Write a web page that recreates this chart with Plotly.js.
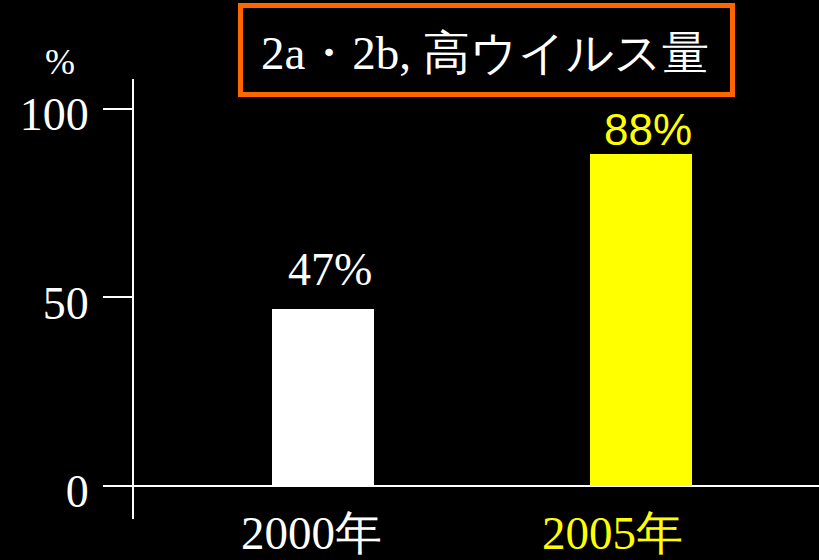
<!DOCTYPE html>
<html>
<head>
<meta charset="utf-8">
<script src="https://cdn.plot.ly/plotly-3.0.1.min.js"></script>
<style>html,body{margin:0;padding:0;background:#000;}#chart{width:819px;height:560px;}</style>
</head>
<body>
<div id="chart"></div>
<script>
const categories = ['2000年', '2005年'];
const values = [47, 88];
const barColors = ['#FFFFFF', '#FFFF00'];
const labelColors = ['#FFFFFF', '#FFFF00'];
const tickValsY = [0, 50, 100];
const tickTextY = ['0', '50', '100'];
const titleText = '2a・2b, 高ウイルス量';
const unitText = '%';

const serif = 'Liberation Serif';
const sans = 'Liberation Sans';

const trace = {
  type: 'bar',
  x: [0, 1],
  y: values,
  width: 0.321,
  marker: {color: barColors, line: {width: 0}},
  hoverinfo: 'none'
};

const annFonts = [
  {family: serif, size: 46, color: labelColors[0]},
  {family: sans, size: 44, color: labelColors[1]}
];
const barLabels = values.map((v, i) => ({
  x: i, y: v, xref: 'x', yref: 'y',
  text: v + '%', showarrow: false,
  xanchor: 'center', yanchor: 'bottom', xshift: 7, yshift: i === 0 ? 12 : -2,
  font: annFonts[i]
}));
const catShift = [-11, -28];
const catLabels = categories.map((c, i) => ({
  x: i, y: (519 - 533) / 440, xref: 'x', yref: 'paper',
  text: c, showarrow: false, xanchor: 'center', yanchor: 'middle',
  xshift: catShift[i],
  font: {family: serif, size: 47, color: labelColors[i]}
}));

const layout = {
  width: 819, height: 560,
  paper_bgcolor: '#000000', plot_bgcolor: '#000000',
  margin: {l: 134, r: 0, t: 79, b: 41},
  showlegend: false,
  bargap: 0,
  xaxis: {
    range: [-0.595, 1.562],
    showticklabels: false,
    showline: false, zeroline: false, showgrid: false, ticks: '',
    fixedrange: true
  },
  yaxis: {
    range: [-8.75, 107.95],
    tickvals: tickValsY,
    ticktext: tickTextY,
    tickfont: {family: serif, size: 46, color: '#FFFFFF'},
    showline: true, linecolor: '#FFFFFF', linewidth: 2,
    ticks: 'outside', ticklen: 29, tickwidth: 2, tickcolor: '#FFFFFF',
    zeroline: true, zerolinecolor: '#FFFFFF', zerolinewidth: 2,
    showgrid: false,
    ticklabelstandoff: 5,
    ticklabelshift: 5,
    fixedrange: true
  },
  shapes: [{
    type: 'rect', xref: 'paper', yref: 'paper',
    x0: (240.5 - 134) / 685, x1: (732.5 - 134) / 685,
    y0: (519 - 94.5) / 440, y1: (519 - 5.5) / 440,
    line: {color: '#FF6600', width: 5}, fillcolor: 'rgba(0,0,0,0)'
  }],
  annotations: [
    {
      x: (484.5 - 134) / 685, y: (519 - 53) / 440, xref: 'paper', yref: 'paper',
      text: titleText, showarrow: false, xanchor: 'center', yanchor: 'middle',
      font: {family: serif, size: 47, color: '#FFFFFF'}
    },
    {
      x: (60 - 134) / 685, y: (519 - 62) / 440, xref: 'paper', yref: 'paper',
      text: unitText, showarrow: false, xanchor: 'center', yanchor: 'middle',
      font: {family: serif, size: 36, color: '#FFFFFF'}
    }
  ].concat(barLabels).concat(catLabels)
};

Plotly.newPlot('chart', [trace], layout, {displayModeBar: false, staticPlot: true});
</script>
</body>
</html>
